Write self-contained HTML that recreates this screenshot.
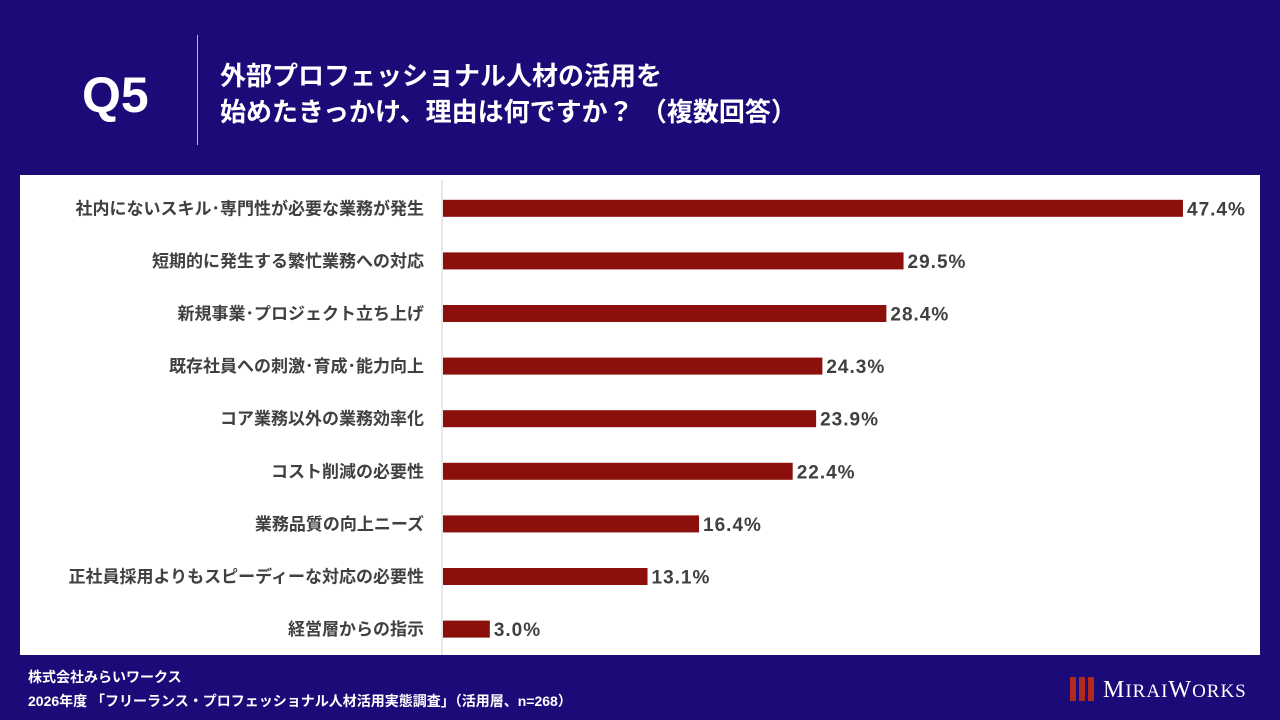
<!DOCTYPE html>
<html><head><meta charset="utf-8"><style>
body{margin:0;width:1280px;height:720px;background:#1b0b79;position:relative;overflow:hidden;font-family:"Liberation Sans","Noto Sans CJK JP",sans-serif;}
.abs{position:absolute;}
</style></head><body>
<div class="abs" style="left:82px;top:66px;font-size:50px;font-weight:bold;color:#fff;">Q5</div>
<div class="abs" style="left:197px;top:35px;width:1px;height:110px;background:#b8b4d8;"></div>
<div class="abs" style="left:220px;top:58px;font-size:26px;font-weight:bold;color:#fff;line-height:36px;">外部プロフェッショナル人材の活用を<br>始めたきっかけ、理由は何ですか？ （複数回答）</div>
<div class="abs" style="left:20px;top:175px;width:1240px;height:480px;background:#fff;"></div>
<svg class="abs" style="left:0;top:0" width="1280" height="720" id="chart"></svg>
<div class="abs" style="left:28px;top:665px;font-size:14px;font-weight:bold;color:#fff;line-height:24px;">株式会社みらいワークス<br>2026年度 「フリーランス・プロフェッショナル人材活用実態調査」（活用層、n=268）</div>
<div class="abs" style="left:1070px;top:675px;">
<svg width="200" height="30"><rect x="0" y="2" width="6" height="24" fill="#b02a1e"/><rect x="9" y="2" width="6" height="24" fill="#b02a1e"/><rect x="18" y="2" width="6" height="24" fill="#b02a1e"/>
<text x="33" y="22" fill="#fff" font-family="Liberation Serif,serif" font-size="24" letter-spacing="1">M<tspan font-size="19">IRAI</tspan>W<tspan font-size="19">ORKS</tspan></text></svg></div>
<script>
const categories=["社内にないスキル・専門性が必要な業務が発生","短期的に発生する繁忙業務への対応","新規事業・プロジェクト立ち上げ","既存社員への刺激・育成・能力向上","コア業務以外の業務効率化","コスト削減の必要性","業務品質の向上ニーズ","正社員採用よりもスピーディーな対応の必要性","経営層からの指示"];
const values=[47.4,29.5,28.4,24.3,23.9,22.4,16.4,13.1,3.0];
const svg=document.getElementById('chart');const NS='http://www.w3.org/2000/svg';
const x0=443,xScale=v=>x0+v*(740/47.4);
const yTop=182,band=52.6,yC=i=>yTop+band*(i+0.5);
const ax=document.createElementNS(NS,'line');


ax.setAttribute('x1',442);ax.setAttribute('x2',442);ax.setAttribute('y1',180);ax.setAttribute('y2',655);ax.setAttribute('stroke','#d0d0d0');svg.appendChild(ax);
categories.forEach((c,i)=>{
 const y=yC(i);
 const t=document.createElementNS(NS,'text');
 
 
 t.setAttribute('x',424);t.setAttribute('y',y+6);t.setAttribute('text-anchor','end');t.setAttribute('font-size','17');t.setAttribute('font-weight','bold');t.setAttribute('fill','#404040');t.textContent=c.replace(/・/g,'･');svg.appendChild(t);
 const r=document.createElementNS(NS,'rect');
 
 
 r.setAttribute('x',x0);r.setAttribute('y',y-8.5);r.setAttribute('width',xScale(values[i])-x0);r.setAttribute('height',17);r.setAttribute('fill','#8b0f0a');svg.appendChild(r);
 const v=document.createElementNS(NS,'text');
 
 
 v.setAttribute('x',xScale(values[i])+4);v.setAttribute('y',y+7);v.setAttribute('font-size','19');v.setAttribute('font-weight','bold');v.setAttribute('letter-spacing','1');v.setAttribute('fill','#404040');v.textContent=values[i].toFixed(1)+'%';svg.appendChild(v);
});
</script>
</body></html>
